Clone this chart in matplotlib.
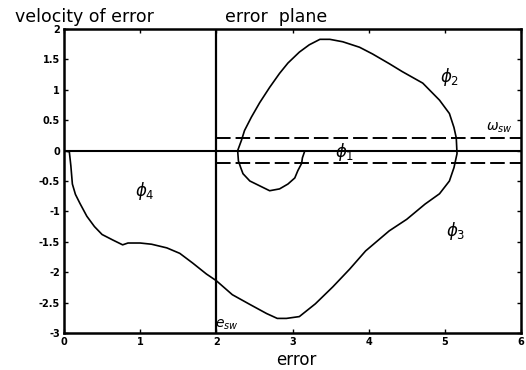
import matplotlib
matplotlib.use("Agg")
import matplotlib.pyplot as plt

# Phase trajectory in the error plane
err = [0.00, 0.07, 0.09, 0.11, 0.15, 0.21, 0.30, 0.40, 0.50, 0.64, 0.77, 0.84,
       1.00, 1.15, 1.35, 1.52, 1.69, 1.87, 2.00, 2.21, 2.44, 2.66, 2.80, 2.92,
       3.09, 3.30, 3.53, 3.75, 3.96, 4.27, 4.50, 4.74, 4.93, 5.06, 5.12, 5.16,
       5.15, 5.12, 5.06, 4.93, 4.71, 4.44, 4.27, 4.05, 3.88, 3.66, 3.49, 3.36,
       3.22, 3.09, 2.94, 2.83, 2.70, 2.57, 2.46, 2.37, 2.33, 2.28, 2.29, 2.32,
       2.35, 2.44, 2.57, 2.70, 2.83, 2.94, 3.03, 3.07, 3.12, 3.13, 3.16]
derr = [0.00, -0.02, -0.25, -0.55, -0.72, -0.87, -1.08, -1.25, -1.38, -1.47,
        -1.55, -1.52, -1.52, -1.54, -1.60, -1.69, -1.85, -2.03, -2.14, -2.37,
        -2.53, -2.68, -2.76, -2.76, -2.73, -2.52, -2.24, -1.95, -1.65, -1.32,
        -1.13, -0.88, -0.71, -0.50, -0.28, -0.05, 0.21, 0.38, 0.61, 0.83, 1.11,
        1.30, 1.43, 1.59, 1.70, 1.79, 1.83, 1.83, 1.74, 1.62, 1.44, 1.27, 1.04,
        0.79, 0.55, 0.33, 0.17, 0.00, -0.17, -0.28, -0.38, -0.50, -0.58, -0.66,
        -0.63, -0.55, -0.45, -0.33, -0.21, -0.12, -0.01]

# Switching thresholds
e_sw = 2.0
w_sw = 0.2

x_ticks = [0, 1, 2, 3, 4, 5, 6]
y_ticks = [-3, -2.5, -2, -1.5, -1, -0.5, 0, 0.5, 1, 1.5, 2]
y_tick_labels = ["-3", "-2.5", "-2", "-1.5", "-1", "-0.5", "0", "0.5", "1", "1.5", "2"]

plt.rcParams["lines.scale_dashes"] = False

fig = plt.figure(figsize=(5.26, 3.70), dpi=100)
ax = fig.add_axes([64 / 526, 1 - 333 / 370, (521 - 64) / 526, (333 - 29) / 370])

ax.plot(err, derr, color="black", lw=1.2, solid_joinstyle="round")
ax.axhline(0, color="black", lw=1.5)
ax.axvline(e_sw, color="black", lw=1.6)
ax.plot([e_sw, 6], [w_sw, w_sw], color="black", lw=1.4, ls=(0, (10.5, 3.6)))
ax.plot([e_sw, 6], [-w_sw, -w_sw], color="black", lw=1.4, ls=(0, (10.5, 3.6)))

ax.set_xlim(0, 6)
ax.set_ylim(-3, 2)
ax.set_xticks(x_ticks)
ax.set_xticklabels([str(t) for t in x_ticks])
ax.set_yticks(y_ticks)
ax.set_yticklabels(y_tick_labels)
ax.tick_params(direction="in", length=3, width=1, top=True, right=True,
               labelsize=7, pad=3)
for lab in ax.get_xticklabels() + ax.get_yticklabels():
    lab.set_fontweight("bold")
for s in ax.spines.values():
    s.set_linewidth(1.8)

# Region and threshold labels
ax.text(5.06, 1.21, r"$\phi_2$", fontsize=12, ha="center", va="center")
ax.text(3.68, -0.02, r"$\phi_1$", fontsize=12, ha="center", va="center")
ax.text(5.14, -1.32, r"$\phi_3$", fontsize=12, ha="center", va="center")
ax.text(1.06, -0.66, r"$\phi_4$", fontsize=12, ha="center", va="center")
ax.text(5.71, 0.38, r"$\omega_{sw}$", fontsize=10, ha="center", va="center")
ax.text(2.14, -2.87, r"$e_{sw}$", fontsize=10, ha="center", va="center")

fig.text(15 / 526, 1 - 22 / 370, "velocity of error", fontsize=12.5,
         family="DejaVu Sans", ha="left", va="baseline")
fig.text(225 / 526, 1 - 22 / 370, "error  plane", fontsize=12.5,
         family="DejaVu Sans", ha="left", va="baseline")
fig.text(296 / 526, 1 - 365 / 370, "error", fontsize=12,
         family="DejaVu Sans", ha="center", va="baseline")

fig.savefig("out.png", dpi=100)
